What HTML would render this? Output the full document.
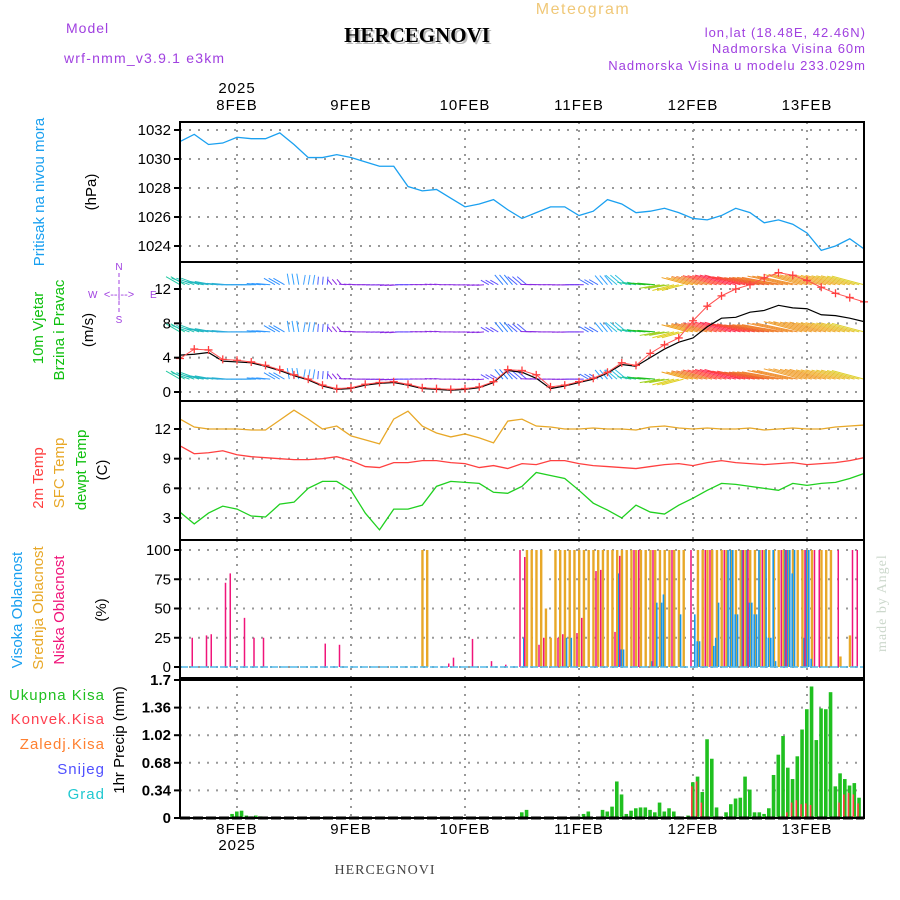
<!DOCTYPE html>
<html><head><meta charset="utf-8"><style>
html,body{margin:0;padding:0;background:#fff;}
svg{display:block;font-family:"Liberation Sans",sans-serif;}
</style></head><body>
<svg id="chart" width="900" height="900" viewBox="0 0 900 900" xmlns="http://www.w3.org/2000/svg">
<g id="grid"></g>
<g id="marks"></g>
<g id="frames"></g>
<g id="labels" font-size="15" fill="#000"></g>
<text x="66" y="33" font-size="14" fill="#a040e0" letter-spacing="1">Model</text>
<text x="64" y="63" font-size="14" fill="#a040e0" letter-spacing="1.2">wrf-nmm_v3.9.1 e3km</text>
<text x="419" y="44" font-size="21" font-weight="bold" font-family="Liberation Serif,serif" text-anchor="middle" fill="#bbb">HERCEGNOVI</text>
<text x="417" y="42" font-size="21" font-weight="bold" font-family="Liberation Serif,serif" text-anchor="middle" fill="#000">HERCEGNOVI</text>
<text x="583" y="14" font-size="16" fill="#f0c878" text-anchor="middle" letter-spacing="1.5">Meteogram</text>
<text x="866" y="37" font-size="13" fill="#a040e0" text-anchor="end" letter-spacing="1">lon,lat (18.48E, 42.46N)</text>
<text x="866" y="53" font-size="13" fill="#a040e0" text-anchor="end" letter-spacing="1">Nadmorska Visina 60m</text>
<text x="866" y="70" font-size="13" fill="#a040e0" text-anchor="end" letter-spacing="1">Nadmorska Visina u modelu 233.029m</text>
<text x="385" y="874" font-size="14" font-family="Liberation Serif,serif" text-anchor="middle" fill="#444" letter-spacing="1">HERCEGNOVI</text>
<text transform="translate(886,652) rotate(-90)" font-size="14" font-family="Liberation Serif,serif" fill="#ccd8cc" letter-spacing="1">made by Angel</text>
<g fill="#a040e0" font-size="10" stroke="none">
<text x="119" y="270" text-anchor="middle">N</text><text x="119" y="323" text-anchor="middle">S</text>
<text x="88" y="298">W</text><text x="150" y="298">E</text>
<text x="119" y="298" text-anchor="middle" font-size="11">&lt;--|--&gt;</text>
<line x1="119" y1="273" x2="119" y2="314" stroke="#a040e0" stroke-dasharray="4,3"/>
</g>
</svg>
<script>
// ---- data ----
const days = ["8FEB","9FEB","10FEB","11FEB","12FEB","13FEB"];
const pressTicks = [1024,1026,1028,1030,1032];
const windTicks = [0,4,8,12];
const tempTicks = [3,6,9,12];
const cloudTicks = [0,25,50,75,100];
const precipTicks = ["0","0.34","0.68","1.02","1.36","1.7"];
// 3-hourly series, hour 0 = 7FEB 12h
const pressure = [1031.2,1031.7,1031.0,1031.1,1031.5,1031.4,1031.4,1031.8,1031.0,1030.1,1030.1,1030.3,1030.1,1029.8,1029.5,1029.5,1028.1,1027.8,1027.9,1027.3,1026.7,1026.9,1027.2,1026.5,1025.9,1026.3,1026.7,1026.7,1026.1,1026.4,1027.2,1026.9,1026.3,1026.4,1026.6,1026.3,1025.9,1025.8,1026.1,1026.6,1026.3,1025.6,1025.8,1025.5,1024.9,1023.7,1024.0,1024.5,1023.8];
const windSpeed = [3.9,5.0,4.9,3.8,3.7,3.5,3.1,2.6,2.0,1.5,0.8,0.4,0.5,0.9,1.1,1.2,0.9,0.5,0.4,0.3,0.4,0.6,1.2,2.6,2.5,2.0,0.6,0.8,1.2,1.6,2.3,3.4,3.1,4.5,5.5,6.3,8.3,10.0,11.2,12.0,12.5,13.3,13.9,13.6,13.0,12.2,11.5,11.0,10.5];
const windGust = [4.3,4.4,4.6,3.6,3.5,3.4,3.0,2.5,1.9,1.4,0.7,0.3,0.4,0.8,1.0,1.1,0.8,0.4,0.3,0.2,0.3,0.5,1.1,2.5,2.3,1.6,0.4,0.7,1.1,1.5,2.2,3.2,3.0,4.0,5.0,5.8,6.3,7.6,8.6,8.7,9.3,9.5,10.1,9.8,9.7,9.0,8.9,8.6,8.2];
const windDirDeg = [300,290,280,275,270,270,275,300,350,10,5,320,275,270,268,265,270,272,275,270,268,265,300,320,310,272,270,268,270,300,320,310,280,275,260,255,285,285,285,285,282,280,280,282,285,285,285,285,285];
const windColor = ["#20c8a0","#20c0b0","#20b8c0","#28b0d0","#30a8e8","#30a0f0","#3098ff","#3090ff","#30a0ff","#40a0ff","#5060ff","#8a2be2","#8a2be2","#8a2be2","#8030e8","#8a2be2","#6040ff","#8a2be2","#8a2be2","#8a2be2","#8a2be2","#8a2be2","#6050ff","#3080ff","#5060ff","#8a2be2","#8a2be2","#8a2be2","#7030f0","#4070ff","#30a0ff","#30c0e0","#20c8a0","#20c020","#a0d020","#e0d020","#f0a020","#f08030","#ff5040","#ff3050","#ff4040","#f06030","#f08030","#f09030","#f0a030","#f0a030","#f0b030","#e8c030","#e0d030"];
const temp2m = [10.3,9.5,9.6,9.8,9.4,9.2,9.1,9.0,8.9,8.9,9.0,9.2,8.8,8.2,8.1,8.6,8.6,8.8,8.8,8.6,8.5,8.1,8.3,8.0,8.5,8.4,8.8,8.8,8.5,8.3,8.2,8.1,8.0,8.2,8.4,8.5,8.3,8.6,8.8,8.6,8.5,8.4,8.5,8.6,8.4,8.5,8.6,8.8,9.1];
const tempSfc = [13.0,12.2,12.0,12.0,12.0,11.9,11.9,12.9,13.9,13.0,12.0,12.3,11.3,10.9,10.5,13.0,13.8,12.3,11.6,11.2,11.5,11.1,10.6,12.8,13.0,12.3,12.2,12.0,12.0,12.1,12.0,12.0,11.9,12.2,12.3,12.1,12.0,12.1,12.0,12.0,12.1,11.9,12.0,12.1,12.0,12.0,12.2,12.3,12.4];
const tempDew = [3.6,2.4,3.5,4.2,3.9,3.2,3.1,4.4,4.6,6.0,6.7,6.7,5.8,3.5,1.8,3.9,3.9,4.3,6.2,6.7,6.6,6.5,5.6,5.5,6.2,7.6,7.3,7.0,5.8,4.5,3.8,3.0,4.3,3.6,3.4,4.3,5.0,5.8,6.5,6.4,6.2,6.0,5.8,6.5,6.3,6.5,6.6,7.0,7.5];
// cloud bars: hours and values
const cloudHighHours = [72,81,82,92,92.5,93,99,100,101,101.4,105,108,108.5,109,112,112.4,113,115,115.5,116,116.5,117,118,119,119.5,120,120.5,121,121.5,123,123.5,124,124.5,125,127,127.5,128,128.5,129,131,131.5,132,132.5];
const cloudHighVals = [25,25,25,80,15,15,5,55,55,62,45,45,22,22,18,25,55,100,100,100,45,45,100,100,55,55,45,45,100,100,25,25,100,5,100,100,100,80,100,25,100,100,7];
const cloudMidHours = [51,52,73,74,75,76,77,78,79,80,81,82,83,84,85,86,87,88,89,90,91,92,93,94,95,96,97,98,99,100,101,102,103,104,105,106,109,110,111,112,113,114,115,116,117,118,119,120,121,122,123,124,125,126,127,128,129,130,131,132,133,135,136,137,139,141];
const cloudMidVals = [100,100,100,100,100,100,50,25,100,100,100,100,100,100,100,100,100,100,100,100,100,100,100,100,100,100,100,100,100,100,100,100,100,100,100,100,100,100,100,100,100,100,100,100,100,100,100,100,100,100,100,100,100,100,100,100,100,100,100,100,100,100,100,100,9,27];
const cloudLowHours = [2,5,6,9,10,13,15,17,30,33,56,57,61,65,68,71,72,75,76,79,80,83,84,87,88,91,92,95,96,99,103,107,110,111,114,118,119,122,126,127,131,133,134,138,141,142];
const cloudLowVals = [25,27,28,72,80,42,25,25,20,19,3,8,24,5,2,100,94,19,25,25,28,29,42,82,83,30,95,100,100,100,100,100,100,100,100,100,100,100,100,100,100,100,100,100,100,100];
// hourly precipitation
const precipHours = [11,12,13,14,15,16,17,72,73,84,85,86,89,90,91,92,93,94,95,96,97,98,99,100,101,102,103,104,105,107,108,109,110,111,112,113,114,115,116,117,118,119,120,121,122,123,124,125,126,127,128,129,130,131,132,133,134,135,136,137,138,139,140,141,142,143];
const precipTotal = [0.05,0.08,0.09,0.03,0.02,0.03,0.02,0.07,0.10,0.02,0.05,0.08,0.10,0.08,0.14,0.45,0.29,0.05,0.09,0.12,0.13,0.13,0.10,0.07,0.19,0.08,0.12,0.08,0.02,0.03,0.44,0.51,0.32,0.97,0.73,0.13,0.0,0.07,0.17,0.24,0.25,0.51,0.35,0.07,0.07,0.05,0.12,0.53,0.78,1.01,0.62,0.48,0.76,1.09,1.34,1.62,0.96,1.35,1.34,1.55,0.39,0.55,0.48,0.40,0.43,0.25];
const precipConv = [0,0,0,0,0,0,0,0,0,0,0,0,0,0,0,0,0,0,0,0,0,0,0,0,0,0,0,0,0,0,0.39,0.45,0.19,0.02,0,0,0,0,0,0,0,0,0,0,0,0,0,0,0,0.02,0.07,0.19,0.22,0.17,0.18,0.16,0,0,0,0,0,0.19,0.29,0.31,0.29,0.18];

// ---- axes ----
const X0=180, X1=864, HOURS=144;
const xH = h => X0 + h*(X1-X0)/HOURS;
const lin = (v0,y0,v1,y1) => v => y0 + (v-v0)*(y1-y0)/(v1-v0);
const yP = lin(1024,246,1032,130);
const yW = lin(0,392,12,289);
const yT = lin(3,518,12,429);
const yC = lin(0,667,100,550);
const yR = lin(0,818,1.7,680);
const panels=[[122,262],[262,401],[401,540],[540,678],[678,818]];
const NS="http://www.w3.org/2000/svg";
function mk(tag,attrs,parent){const e=document.createElementNS(NS,tag);for(const k in attrs)e.setAttribute(k,attrs[k]);parent.appendChild(e);return e;}
const G=document.getElementById('grid'),M=document.getElementById('marks'),F=document.getElementById('frames'),L=document.getElementById('labels');

days.forEach((d,i)=>{const x=xH(12+24*i);
  panels.forEach(p=>{const l=mk('line',{x1:x,x2:x,y1:p[0],y2:p[1],stroke:'#999','stroke-width':2,'stroke-dasharray':'2,6'},G);
    
    });
  const t=mk('text',{x:x,y:110,'text-anchor':'middle','letter-spacing':1},L);t.textContent=d;
  
  
  const b=mk('text',{x:x,y:834,'text-anchor':'middle','letter-spacing':1},L);b.textContent=d;
  
  
});
[[93],[850]].forEach(a=>{const t=mk('text',{x:xH(12),y:a[0],'text-anchor':'middle','letter-spacing':1},L);t.textContent='2025';
  
  });

function hgrid(ticks,fn,labels){ticks.forEach((v,i)=>{const y=fn(typeof v==='string'?parseFloat(v):v);
  const l=mk('line',{x1:X0,x2:X1,y1:y,y2:y,stroke:'#999','stroke-width':2,'stroke-dasharray':'2,7'},G);
  
  
  mk('line',{x1:X0-6,x2:X0,y1:y,y2:y,stroke:'#000','stroke-width':2},F);
  const t=mk('text',{x:X0-9,y:y+5,'text-anchor':'end','font-weight':labels?'bold':'normal'},L);t.textContent=v;
  
  });}
hgrid(pressTicks,yP);hgrid(windTicks,yW);hgrid(tempTicks,yT);hgrid(cloudTicks,yC);hgrid(precipTicks,yR,true);

panels.forEach(p=>{const r=mk('rect',{x:X0,y:p[0],width:X1-X0,height:p[1]-p[0],fill:'none',stroke:'#000','stroke-width':2},F);
  
  });
mk('line',{x1:X0,x2:X1,y1:818,y2:818,stroke:'#000','stroke-width':3,'stroke-dasharray':'10,3'},F);

function series(arr,fn,color,name,w){const pts=arr.map((v,i)=>xH(i*3)+','+fn(v)).join(' ');
  const p=mk('polyline',{points:pts,fill:'none',stroke:color,'stroke-width':w||1.3},M);
  
  return p;}
series(pressure,yP,'#1aa0f0','pressure-line');

[1.5,7,12.5].forEach(lev=>{const by=yW(lev);
  for(let h=0;h<=HOURS;h++){const i=Math.round(h/3);const sp=windSpeed[i];const a=windDirDeg[i]*Math.PI/180;
    const len=Math.min(6+sp*2.6,42);const x=xH(h);
    const ln=mk('line',{x1:x,y1:by,x2:x+len*Math.sin(a),y2:by-len*Math.cos(a),stroke:windColor[i],'stroke-width':1},M);
    
    }
});
series(windGust,yW,'#000','wind-gust-line',1.2);
series(windSpeed,yW,'#ff5050','wind-speed-line',1);
windSpeed.forEach((v,i)=>{const x=xH(i*3),y=yW(v);
  const c=mk('path',{d:`M${x-4},${y}h8M${x},${y-4}v8`,stroke:'#ff4040','stroke-width':1.3},M);
  
  });

series(tempSfc,yT,'#e8a828','sfc-temp-line');
series(temp2m,yT,'#ff4040','temp-2m-line');
series(tempDew,yT,'#20d020','dewpoint-line');

function bars(hours,vals,color,name,w,dx){hours.forEach((h,i)=>{const y=yC(vals[i]);
  const r=mk('rect',{x:xH(h)+dx,y:y,width:w,height:yC(0)-y,fill:color},M);
  
  });}
bars(cloudMidHours,cloudMidVals,'#e8a828','mid-cloud-bar',2.4,-1);
bars(cloudHighHours,cloudHighVals,'#1898e8','high-cloud-bar',1.6,1);
bars(cloudLowHours,cloudLowVals,'#f0157a','low-cloud-bar',1.5,2);
mk('line',{x1:X0,x2:X1,y1:667,y2:667,stroke:'#50b8e8','stroke-width':1.5,'stroke-dasharray':'8,2'},M);

precipHours.forEach((h,i)=>{const x=xH(h)-2;
  const y=yR(precipTotal[i]);const r=mk('rect',{x:x,y:y,width:3.6,height:818-y,fill:'#20c020'},M);
  
  
  if(precipConv[i]>0){const yc=yR(precipConv[i]);const c=mk('rect',{x:x,y:yc,width:1.6,height:818-yc,fill:'#ff4040'},M);
    
    }
});
mk('line',{x1:X0,x2:X1,y1:680,y2:680,stroke:'#000','stroke-width':2},F);

function vt(txt,x,cy,color,name){const t=mk('text',{transform:`translate(${x},${cy}) rotate(-90)`,'text-anchor':'middle',fill:color,'font-size':15},L);
  t.textContent=txt;
  
  }
vt('Pritisak na nivou mora',44,192,'#1aa0f0','pressure-title');vt('(hPa)',96,192,'#000','pressure-unit');
vt('10m Vjetar',43,328,'#10c010','wind-title');vt('Brzina i Pravac',64,330,'#10c010','wind-subtitle');vt('(m/s)',93,330,'#000','wind-unit');
vt('2m Temp',43,478,'#ff4040','temp2m-title');vt('SFC Temp',64,473,'#e8a828','sfc-temp-title');vt('dewpt Temp',86,470,'#10c010','dewpt-title');vt('(C)',107,470,'#000','temp-unit');
vt('Visoka Oblacnost',22,610,'#1aa0f0','high-cloud-title');vt('Srednja Oblacnost',43,608,'#e8a828','mid-cloud-title');vt('Niska Oblacnost',64,610,'#f0157a','low-cloud-title');vt('(%)',106,610,'#000','cloud-unit');
vt('1hr Precip (mm)',124,740,'#000','precip-title');
[['Ukupna Kisa',700,'#20c020'],['Konvek.Kisa',724,'#ff4050'],['Zaledj.Kisa',749,'#ff8030'],['Snijeg',774,'#5050ff'],['Grad',799,'#20c8d0']].forEach(a=>{
  const t=mk('text',{x:105,y:a[1],'text-anchor':'end',fill:a[2],'font-size':15,'letter-spacing':1},L);t.textContent=a[0];
  
  });
</script>
</body></html>
